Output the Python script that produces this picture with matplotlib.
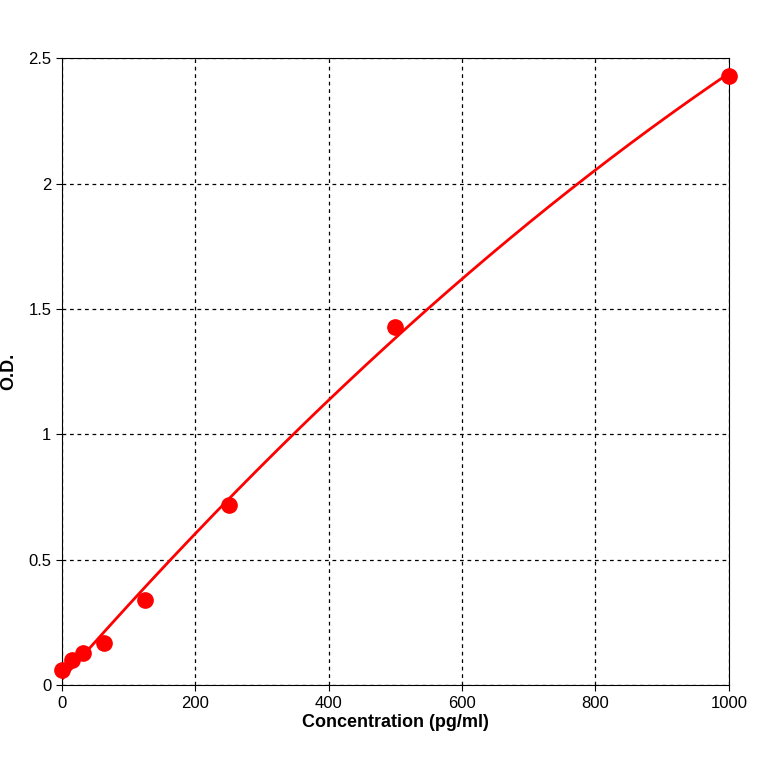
import numpy as np
import matplotlib
matplotlib.use("Agg")
import matplotlib.pyplot as plt

plt.rcParams['font.family'] = ['Liberation Sans', 'DejaVu Sans']

# standard curve points
conc = [0, 15.6, 31.25, 62.5, 125, 250, 500, 1000]
od = [0.06, 0.10, 0.13, 0.17, 0.34, 0.72, 1.43, 2.43]

# smooth fitted curve through the standards
coef = np.polyfit(conc, od, 2)
xs = np.linspace(0, 1000, 400)
ys = np.polyval(coef, xs)

fig = plt.figure(figsize=(7.64, 7.64), dpi=100)
ax = fig.add_axes([0.081, 0.103, 0.873, 0.821])

ax.plot(xs, ys, color='red', lw=2)
ax.plot(conc, od, 'o', color='red', ms=11, mec='red', clip_on=False, zorder=5)

ax.set_xlim(0, 1000)
ax.set_ylim(0, 2.5)
ax.set_xticks([0, 200, 400, 600, 800, 1000])
ax.set_yticks([0, 0.5, 1, 1.5, 2, 2.5])
ax.set_yticklabels(['0', '0.5', '1', '1.5', '2', '2.5'])
ax.grid(True, color='black', linestyle=(0, (3, 3)), lw=0.9)
ax.tick_params(labelsize=12, length=4)
ax.set_xlabel('Concentration (pg/ml)', fontsize=13, fontweight='bold', labelpad=2)
ax.set_ylabel('O.D.', fontsize=13, fontweight='bold', labelpad=8)

fig.savefig('out.png', dpi=100)
